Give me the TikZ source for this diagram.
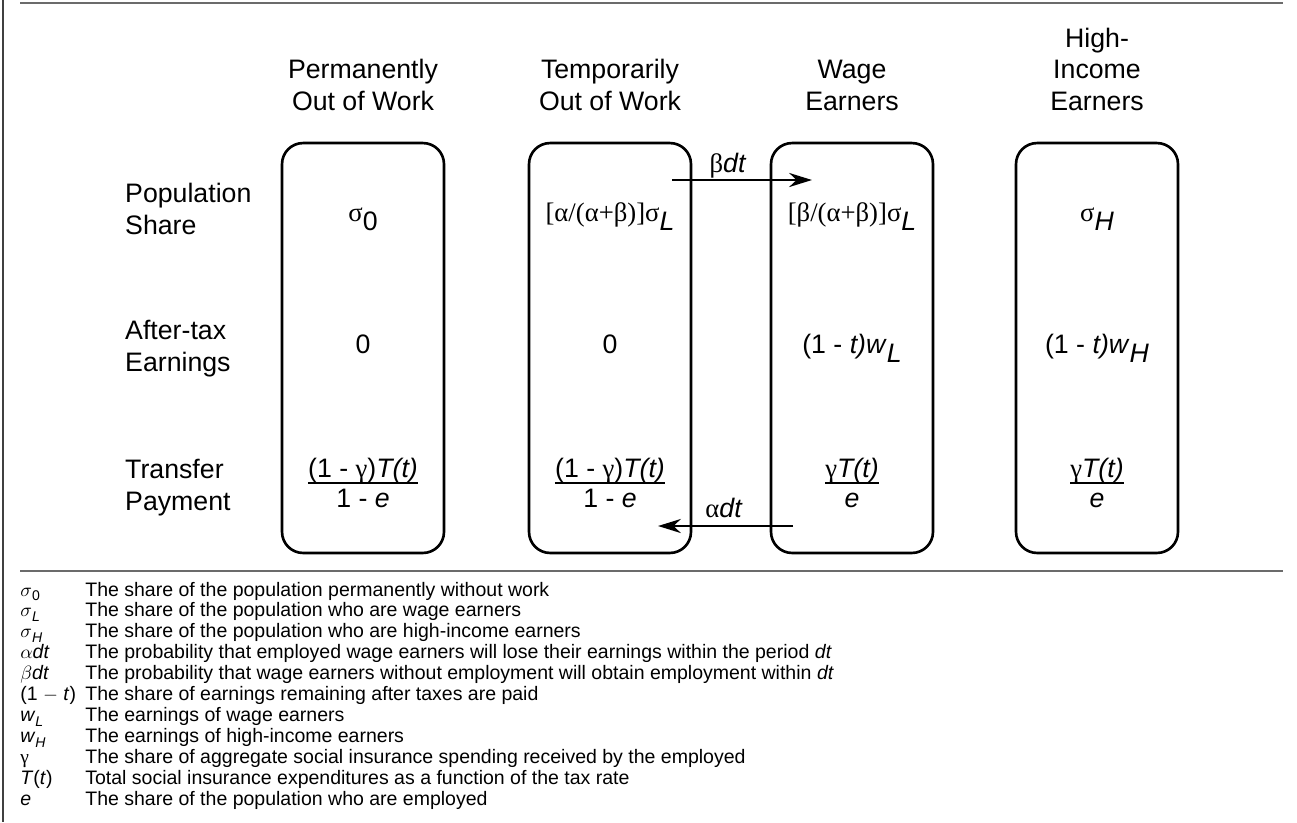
\documentclass[tikz,border=0pt]{standalone}
\usepackage{fontspec}
\setmainfont{Liberation Sans}
\newfontfamily\grk{Liberation Serif}
\usetikzlibrary{arrows.meta}
\newcommand\lowidx[1]{\raisebox{-0.36em}{#1}}
\newcommand\lgidx[1]{\raisebox{-0.25em}{\fontsize{8}{9}\selectfont #1}}
\definecolor{rulegray}{HTML}{6B6B6B}
\tikzset{
  grp/.style={draw, line width=1.5pt, rounded corners=12pt, minimum width=3.24cm,
    minimum height=8.2cm, inner sep=0pt},
  head/.style={anchor=base, align=center, font=\fontsize{15.2}{17.8}\selectfont},
  rowlab/.style={anchor=base west, align=left, font=\fontsize{15.2}{18.2}\selectfont},
  val/.style={anchor=base, inner sep=0pt, font=\fontsize{15.2}{18}\selectfont},
  fracbar/.style={line width=1.3pt},
  flow/.style={line width=1.5pt, -{Stealth[length=13pt,width=8pt]}},
  sym/.style={anchor=base west, inner sep=0pt, font=\fontsize{11.1}{12}\selectfont},
  frame/.style={line width=1.1pt, rulegray},
}
\begin{document}
\begin{tikzpicture}[x=0.02cm, y=-0.02cm]
\useasboundingbox (0,0) rectangle (1297,822);
% frame lines
\draw[line width=0.6pt, black!75] (3,0) -- (3,822);
\draw[frame] (20,3) -- (1283,3);
\draw[frame] (20,571) -- (1283,571);
% column heads (base = last line)
\node[head] (hperm) at (363,110) {Permanently\\Out of Work};
\node[head] (htemp) at (610,110) {Temporarily\\Out of Work};
\node[head] (hwage) at (852,110) {Wage\\Earners};
\node[head] (hhigh) at (1097,110) {High-\\Income\\Earners};
% row labels
\node[rowlab] (lpop) at (119,234) {Population\\Share};
\node[rowlab] (learn) at (119,371) {After-tax\\Earnings};
\node[rowlab] (ltrans) at (119,510) {Transfer\\Payment};
% groups
\node[grp] (perm) at (363,348) {};
\node[grp] (temp) at (610,348) {};
\node[grp] (wage) at (852,348) {};
\node[grp] (high) at (1097,348) {};
% population share
\node[val] (sperm) at (363,221) {{\grk σ}\lowidx{0}};
\node[val] (stemp) at (610,221) {{\grk [α/(α+β)]σ}\lowidx{\textit{L}}};
\node[val] (swage) at (852,221) {{\grk [β/(α+β)]σ}\lowidx{\textit{L}}};
\node[val] (shigh) at (1097,221) {{\grk σ}\lowidx{\textit{H}}};
% after-tax earnings
\node[val] (eperm) at (363,353) {0};
\node[val] (etemp) at (610,353) {0};
\node[val] (ewage) at (852,353) {(1 - \textit{t)w}\lowidx{\textit{L}}};
\node[val] (ehigh) at (1097,353) {(1 - \textit{t)w}\lowidx{\textit{H}}};
% transfer payment
\node[val] (tpermn) at (363,477) {(1 - {\grk γ})\textit{T(t)}};
\node[val] (tpermd) at (363,507) {1 - \textit{e}};
\draw[fracbar] (tpermn.south west) -- (tpermn.south east);
\node[val] (ttempn) at (610,477) {(1 - {\grk γ})\textit{T(t)}};
\node[val] (ttempd) at (610,507) {1 - \textit{e}};
\draw[fracbar] (ttempn.south west) -- (ttempn.south east);
\node[val] (twagen) at (852,477) {{\grk γ}\textit{T(t)}};
\node[val] (twaged) at (852,507) {\textit{e}};
\draw[fracbar] (twagen.south west) -- (twagen.south east);
\node[val] (thighn) at (1097,477) {{\grk γ}\textit{T(t)}};
\node[val] (thighd) at (1097,507) {\textit{e}};
\draw[fracbar] (thighn.south west) -- (thighn.south east);
% flows
\coordinate (bdtA) at (672,180);
\coordinate (bdtB) at (812,180);
\draw[flow] (bdtA) -- (bdtB);
\node[val] (bdt) at (728,172) {{\grk β}\textit{dt}};
\coordinate (adtA) at (793,526);
\coordinate (adtB) at (658,526);
\draw[flow] (adtA) -- (adtB);
\node[val] (adt) at (724,517) {{\grk α}\textit{dt}};
% legend
\node[sym] (ks0) at (20,596) {$\sigma$\lgidx{0}};
\node[sym] (kt0) at (85,596) {The share of the population permanently without work};
\node[sym] (ksl) at (20,616.9) {$\sigma$\lgidx{\textit{L}}};
\node[sym] (ktl) at (85,616.9) {The share of the population who are wage earners};
\node[sym] (ksh) at (20,637.8) {$\sigma$\lgidx{\textit{H}}};
\node[sym] (kth) at (85,637.8) {The share of the population who are high-income earners};
\node[sym] (ka) at (20,658.7) {$\alpha$\textit{dt}};
\node[sym] (kta) at (85,658.7) {The probability that employed wage earners will lose their earnings within the period \textit{dt}};
\node[sym] (kb) at (20,679.6) {$\beta$\textit{dt}};
\node[sym] (ktb) at (85,679.6) {The probability that wage earners without employment will obtain employment within \textit{dt}};
\node[sym] (kt) at (20,700.5) {(1 $-$ \textit{t})};
\node[sym] (ktt) at (85,700.5) {The share of earnings remaining after taxes are paid};
\node[sym] (kwl) at (20,721.4) {\textit{w}\lgidx{\textit{L}}};
\node[sym] (ktwl) at (85,721.4) {The earnings of wage earners};
\node[sym] (kwh) at (20,742.3) {\textit{w}\lgidx{\textit{H}}};
\node[sym] (ktwh) at (85,742.3) {The earnings of high-income earners};
\node[sym] (kg) at (20,763.2) {{\grk γ}};
\node[sym] (ktg) at (85,763.2) {The share of aggregate social insurance spending received by the employed};
\node[sym] (kT) at (20,784.1) {\textit{T}(\textit{t})};
\node[sym] (ktT) at (85,784.1) {Total social insurance expenditures as a function of the tax rate};
\node[sym] (ke) at (20,805) {\textit{e}};
\node[sym] (kte) at (85,805) {The share of the population who are employed};
\end{tikzpicture}
\end{document}
